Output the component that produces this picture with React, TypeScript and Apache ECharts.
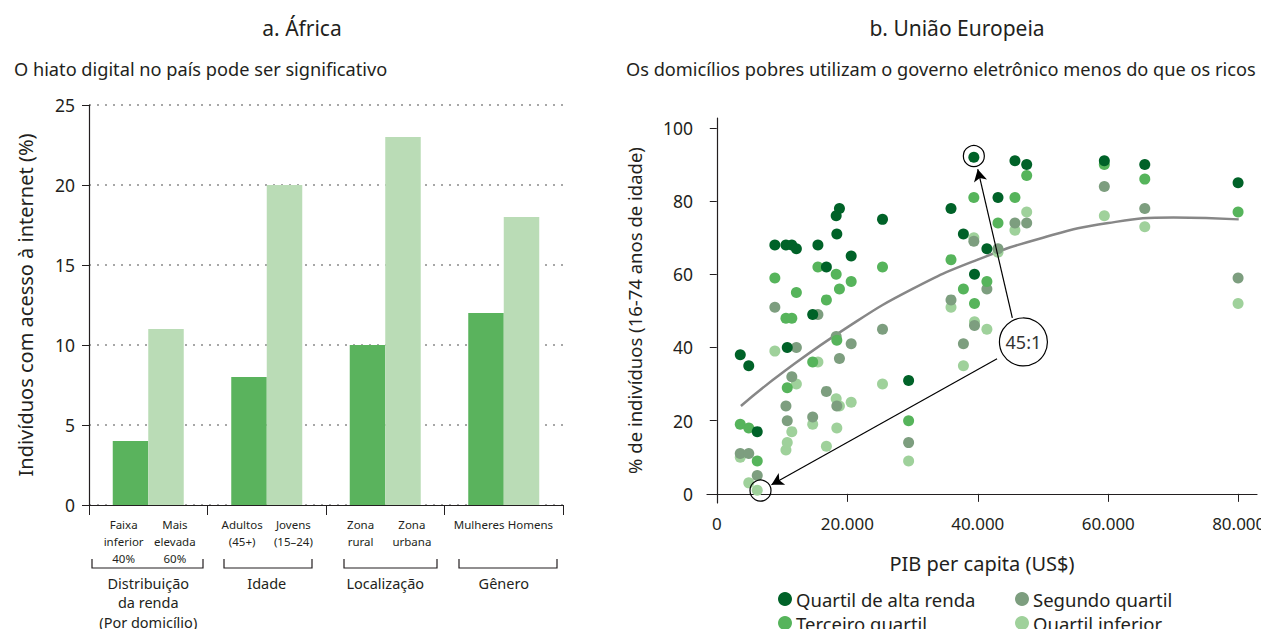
import React, { useEffect, useRef } from "react";
import * as echarts from "echarts";

// ---- Panel a: África ----
const barGroups = ["Distribuição\nda renda\n(Por domicílio)", "Idade", "Localização", "Gênero"];
const barSubLabels = [
  "Faixa\ninferior\n40%", "Mais\nelevada\n60%",
  "Adultos\n(45+)", "Jovens\n(15–24)",
  "Zona\nrural", "Zona\nurbana",
  "Mulheres", "Homens",
];
const barLow = [4, 8, 10, 12];
const barHigh = [11, 20, 23, 18];

// ---- Panel b: União Europeia ----
const gdp = [3600, 4900, 6200, 8900, 10600, 10800, 11500, 12200, 14700, 15500, 16800, 18300, 18400, 18800, 20600, 25400, 29400, 35900, 37800, 39400, 39500, 41400, 43100, 45700, 47500, 59400, 65600, 79900];
const qAlta = [38, 35, 17, 68, 68, 40, 68, 67, 49, 68, 62, 76, 71, 78, 65, 75, 31, 78, 71, 92, 60, 67, 81, 91, 90, 91, 90, 85];
const qSegundo = [11, 11, 5, 51, 24, 20, 32, 40, 21, 49, 28, 43, 24, 37, 41, 45, 14, 53, 41, 69, 46, 56, 67, 74, 74, 84, 78, 59];
const qTerceiro = [19, 18, 9, 59, 48, 29, 48, 55, 36, 62, 53, 60, 42, 56, 58, 62, 20, 64, 56, 81, 52, 58, 74, 81, 87, 90, 86, 77];
const qInferior = [10, 3, 1, 39, 12, 14, 17, 30, 19, 36, 13, 26, 18, 24, 25, 30, 9, 51, 35, 70, 47, 45, 66, 72, 77, 76, 73, 52];
const trendX = [3700, 10000, 20000, 30000, 40000, 50000, 60000, 70000, 80000];
const trendY = [24, 33, 45.5, 56, 64, 70, 74, 75.5, 75];
const xTicks = [0, 20000, 40000, 60000, 80000];
const yTicks = [0, 20, 40, 60, 80, 100];

const legendNames = ["Quartil de alta renda", "Segundo quartil", "Terceiro quartil", "Quartil inferior"];
const FONT = "Noto Sans";
const TXT = "#231f20";

const fmt = (v: number) => String(v).replace(/\B(?=(\d{3})+(?!\d))/g, ".");
const pts = (ys: number[]) => gdp.map((x, i) => [x, ys[i]]);

export default function App() {
  const ref = useRef<HTMLDivElement>(null);
  useEffect(() => {
    const chart = echarts.init(ref.current!, null, { renderer: "svg" });
    const bracket = (x1: number, x2: number) => ({
      type: "polyline",
      shape: { points: [[x1, 559], [x1, 568], [x2, 568], [x2, 559]] },
      style: { stroke: "#231f20", lineWidth: 1.2, fill: "none" },
    });
    const scatterColors = ["#006228", "#7d9e7f", "#56b45b", "#9fd19b"];
    const legendBase = {
      orient: "vertical", top: 589, height: 48, padding: 0, itemGap: 4,
      itemWidth: 14, itemHeight: 14, icon: "circle",
      textStyle: { fontSize: 18.5, lineHeight: 20, color: TXT, fontFamily: FONT, padding: [0, 0, 0, -1] },
    };
    const subStyle = { fontSize: 11.5, lineHeight: 17, color: TXT, fontFamily: FONT };
    chart.setOption({
      animation: false,
      textStyle: { fontFamily: FONT, color: TXT },
      title: [
        { text: "a. África", left: 297, top: 12, textAlign: "center", textStyle: { fontFamily: FONT, fontSize: 21, fontWeight: "normal", color: TXT } },
        { text: "b. União Europeia", left: 952, top: 12, textAlign: "center", textStyle: { fontFamily: FONT, fontSize: 21, fontWeight: "normal", color: TXT } },
        { text: "O hiato digital no país pode ser significativo", left: 9, top: 55, textStyle: { fontFamily: FONT, fontSize: 18.2, fontWeight: "normal", color: TXT } },
        { text: "Os domicílios pobres utilizam o governo eletrônico menos do que os ricos", left: 621, top: 55, textStyle: { fontFamily: FONT, fontSize: 18.2, fontWeight: "normal", color: TXT } },
      ],
      grid: [
        { left: 89, right: 706, top: 105, bottom: 132 },
        { left: 707, right: 12, top: 118, bottom: 134 },
      ],
      xAxis: [
        {
          type: "category", gridIndex: 0, data: barGroups,
          axisLine: { lineStyle: { color: "#231f20", width: 1.2 } },
          axisTick: { show: true, length: 10, interval: 0, lineStyle: { color: "#231f20" } },
          axisLabel: { show: false },
        },
        {
          type: "category", gridIndex: 0, position: "bottom", offset: 0, data: barSubLabels,
          axisLine: { show: false }, axisTick: { show: false },
          axisLabel: {
            interval: 0, margin: 11, ...subStyle,
            formatter: (v: string, i: number) => v.split("\n").map((s) => `{${i % 2 === 0 ? "l" : "r"}|${s}}`).join("\n"),
            rich: {
              l: { ...subStyle, padding: [0, 0, 0, 10] },
              r: { ...subStyle, padding: [0, 6, 0, 0] },
            },
          },
        },
        {
          type: "category", gridIndex: 0, position: "bottom", offset: 0, data: barGroups,
          axisLine: { show: false }, axisTick: { show: false },
          axisLabel: { interval: 0, margin: 68, fontSize: 14.5, lineHeight: 19.5, color: TXT, fontFamily: FONT },
        },
        {
          type: "value", gridIndex: 1, min: -1500, max: 82800,
          name: "PIB per capita (US$)", nameLocation: "middle", nameGap: 50,
          nameTextStyle: { fontSize: 20, color: TXT, fontFamily: FONT },
          axisLine: { lineStyle: { color: "#231f20", width: 1.2 } },
          axisTick: { show: true, length: 8, customValues: xTicks, lineStyle: { color: "#231f20" } },
          axisLabel: { customValues: xTicks, margin: 12, fontSize: 17, color: TXT, fontFamily: FONT, formatter: (v: number) => fmt(v) },
          splitLine: { show: false },
        },
      ],
      yAxis: [
        {
          type: "value", gridIndex: 0, min: 0, max: 25, interval: 5,
          name: "Indivíduos com acesso à internet (%)", nameLocation: "middle", nameGap: 54,
          nameTextStyle: { fontSize: 20, color: TXT, fontFamily: FONT },
          axisLine: { show: true, lineStyle: { color: "#231f20", width: 1.2 } },
          axisTick: { show: true, length: 7, lineStyle: { color: "#231f20" } },
          axisLabel: { margin: 14, fontSize: 17.5, color: TXT, fontFamily: FONT },
          splitLine: { show: true, lineStyle: { color: "#a7a7a7", type: [2, 6], width: 2 } },
        },
        {
          type: "value", gridIndex: 1, min: -2.5, max: 102.7,
          name: "% de indivíduos (16-74 anos de idade)", nameLocation: "middle", nameGap: 63,
          nameTextStyle: { fontSize: 18.5, color: TXT, fontFamily: FONT },
          axisLine: { show: true, lineStyle: { color: "#231f20", width: 1.2 } },
          axisTick: { show: true, length: 7, customValues: yTicks, lineStyle: { color: "#231f20" } },
          axisLabel: { customValues: yTicks, margin: 14, fontSize: 17.5, color: TXT, fontFamily: FONT },
          splitLine: { show: false },
        },
      ],
      legend: [
        { ...legendBase, left: 778, data: [legendNames[0], legendNames[2]] },
        { ...legendBase, left: 1015, data: [legendNames[1], legendNames[3]] },
      ],
      graphic: [bracket(92, 203), bracket(224, 312), bracket(344, 437), bracket(459, 557)],
      series: [
        { type: "bar", xAxisIndex: 0, yAxisIndex: 0, data: barLow, barWidth: 35.5, barGap: "0%", itemStyle: { color: "#5ab35d" } },
        { type: "bar", xAxisIndex: 0, yAxisIndex: 0, data: barHigh, barWidth: 35.5, barGap: "0%", itemStyle: { color: "#badcb6" } },
        {
          type: "line", xAxisIndex: 3, yAxisIndex: 1, smooth: true, symbol: "none",
          data: trendX.map((x, i) => [x, trendY[i]]),
          lineStyle: { color: "#878787", width: 2.5 }, z: 1,
        },
        { name: legendNames[3], type: "scatter", xAxisIndex: 3, yAxisIndex: 1, data: pts(qInferior), symbolSize: 11, itemStyle: { color: scatterColors[3], opacity: 1 }, z: 2 },
        { name: legendNames[1], type: "scatter", xAxisIndex: 3, yAxisIndex: 1, data: pts(qSegundo), symbolSize: 11, itemStyle: { color: scatterColors[1], opacity: 1 }, z: 3 },
        { name: legendNames[2], type: "scatter", xAxisIndex: 3, yAxisIndex: 1, data: pts(qTerceiro), symbolSize: 11, itemStyle: { color: scatterColors[2], opacity: 1 }, z: 4 },
        {
          name: legendNames[0], type: "scatter", xAxisIndex: 3, yAxisIndex: 1, data: pts(qAlta), symbolSize: 11,
          itemStyle: { color: scatterColors[0], opacity: 1 }, z: 5,
          markLine: {
            silent: true, symbol: ["none", "arrow"], symbolSize: [10, 12],
            lineStyle: { color: "#000", width: 1.2, type: "solid" },
            label: { show: false },
            data: [
              [{ coord: [45300, 48.1] }, { coord: [40000, 88.7] }],
              [{ coord: [42960, 36.9] }, { coord: [8380, 2.5] }],
            ],
          },
          markPoint: {
            silent: true,
            data: [
              { coord: [39400, 92.3], symbol: "circle", symbolSize: 21, itemStyle: { color: "rgba(0,0,0,0)", borderColor: "#000", borderWidth: 1.2 }, label: { show: false } },
              { coord: [6700, 0.9], symbol: "circle", symbolSize: 21, itemStyle: { color: "rgba(0,0,0,0)", borderColor: "#000", borderWidth: 1.2 }, label: { show: false } },
              { coord: [47000, 41.5], symbol: "circle", symbolSize: 48, itemStyle: { color: "#fff", borderColor: "#000", borderWidth: 1.2 }, label: { show: true, position: "inside", formatter: "45:1", fontSize: 18, color: "#333", fontFamily: FONT } },
            ],
          },
        },
      ],
    });
    return () => chart.dispose();
  }, []);
  return <div ref={ref} style={{ width: 1269, height: 637, margin: -8 }} />;
}
